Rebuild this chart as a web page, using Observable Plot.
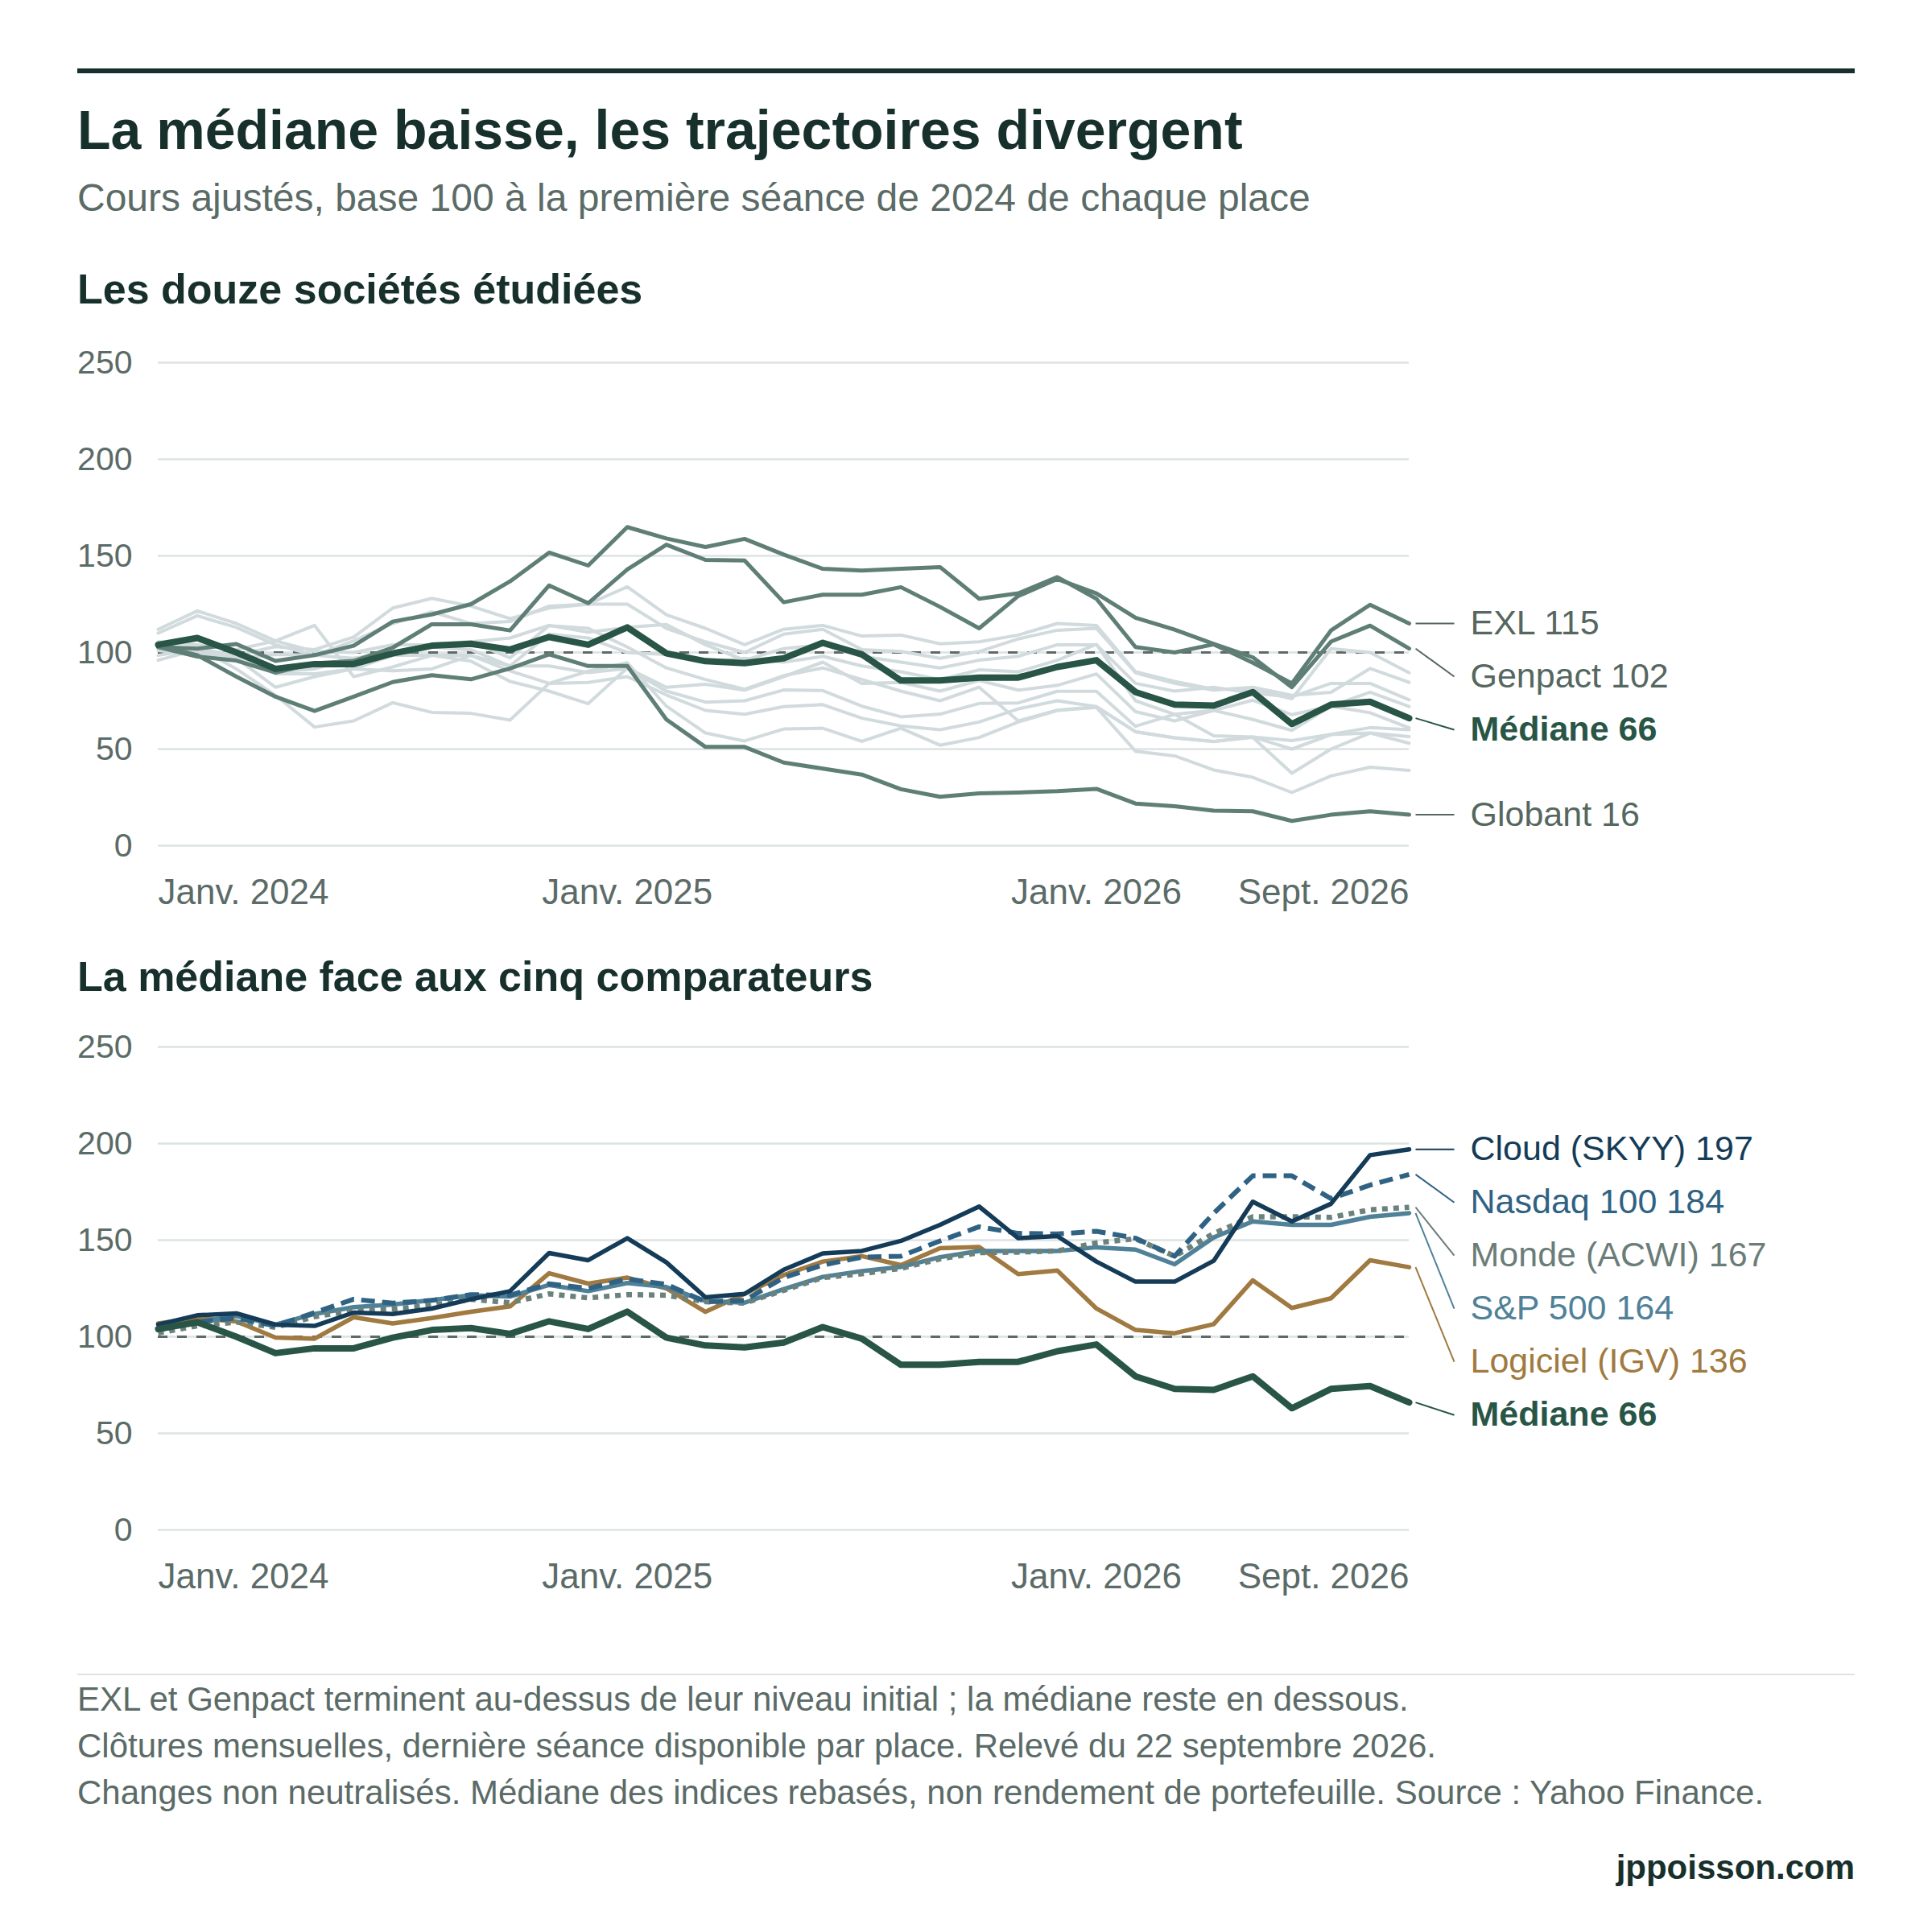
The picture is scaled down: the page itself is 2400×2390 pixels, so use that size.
<!DOCTYPE html>
<html lang="fr"><head><meta charset="utf-8">
<script src="https://cdn.jsdelivr.net/npm/d3@7"></script>
<script src="https://cdn.jsdelivr.net/npm/@observablehq/plot@0.6"></script>
<style>
html,body{margin:0;padding:0;background:#fff;}
#page{position:relative;width:2400px;height:2390px;overflow:hidden;background:#fff;font-family:"Liberation Sans",Arial,Helvetica,sans-serif;}
.t{position:absolute;white-space:nowrap;line-height:1;margin:0;}
.rule{position:absolute;left:96px;width:2208px;}
.chart{position:absolute;left:0;width:2400px;}
</style></head>
<body><div id="page">
<div class="rule" style="top:85px;height:6px;background:#17302b"></div>
<div class="t" style="left:96px;top:127px;font-size:68px;font-weight:bold;color:#17302b">La médiane baisse, les trajectoires divergent</div>
<div class="t" style="left:96px;top:222px;font-size:48px;color:#5b6b67">Cours ajustés, base 100 à la première séance de 2024 de chaque place</div>
<div class="t" style="left:96px;top:333px;font-size:52px;font-weight:bold;color:#17302b">Les douze sociétés étudiées</div>
<div class="chart" id="c1" style="top:400px"></div>
<div class="t" style="left:96px;top:1187px;font-size:52px;font-weight:bold;color:#17302b">La médiane face aux cinq comparateurs</div>
<div class="chart" id="c2" style="top:1250px"></div>
<div class="rule" style="top:2079px;height:2px;background:#dde2e2"></div>
<div class="t" style="left:96px;top:2090px;font-size:42px;color:#5b6b67">EXL et Genpact terminent au-dessus de leur niveau initial ; la médiane reste en dessous.</div>
<div class="t" style="left:96px;top:2148px;font-size:42px;color:#5b6b67">Clôtures mensuelles, dernière séance disponible par place. Relevé du 22 septembre 2026.</div>
<div class="t" style="left:96px;top:2206px;font-size:42px;color:#5b6b67">Changes non neutralisés. Médiane des indices rebasés, non rendement de portefeuille. Source : Yahoo Finance.</div>
<div class="t" style="right:96px;top:2299px;font-size:42px;font-weight:bold;color:#17302b">jppoisson.com</div>
</div>
<script>
// ---- Categories / ticks ----
const months = ["2024-01","2024-02","2024-03","2024-04","2024-05","2024-06","2024-07","2024-08","2024-09","2024-10","2024-11","2024-12",
"2025-01","2025-02","2025-03","2025-04","2025-05","2025-06","2025-07","2025-08","2025-09","2025-10","2025-11","2025-12",
"2026-01","2026-02","2026-03","2026-04","2026-05","2026-06","2026-07","2026-08","2026-09"];
const tickMonths = ["2024-01","2025-01","2026-01","2026-09"];
const tickLabels = ["Janv. 2024","Janv. 2025","Janv. 2026","Sept. 2026"];
const yTicks = [0,50,100,150,200,250];

// ---- Series (base 100) ----
const mediane = [104,107.5,100,91.5,94,94,99.5,103.5,104.5,101.5,108,104,113,99.5,95.5,94.5,97,105,99,85.5,85.5,87,87,92.5,96,79.5,73,72.5,79.5,63,73,74.5,66];
const exl = [102.8,102,104.4,95.6,98.6,103.5,116,119.7,125,136.8,151.7,145,164.9,159,154.6,158.8,150.7,143.3,142.4,143.3,144.2,127.8,130.6,139,127.8,102.8,100,104.2,94.7,84,111.4,124.7,115];
const genpact = [102.8,97.9,95.8,89.6,94.4,95.6,102.5,114.6,114.6,111.4,134.7,125.5,143,155.8,147.9,147.6,126,129.9,129.9,133.8,123.6,112.5,129.2,138,130.6,118,111.8,104.4,97.5,82,105.6,113.9,102];
const globant = [103.7,98.6,87.5,77.1,69.7,77.1,84.7,88.2,86.1,91.7,99,93,93,65.3,51.1,51.1,43,39.9,36.8,29.2,25.3,27.1,27.5,28.2,29.4,21.8,20.4,18.1,17.8,12.8,16,17.8,16];
const societeA = [104,101.5,98.5,103,101.5,108,123,128,124,117.5,123,125,134,119.5,112.5,104,112,114,108.5,109,104.5,105.5,109,115,114,90,85,81,81,76,102,100,89.5];
const societeB = [101,98.5,97,99,98.5,106,115,121,115,116,124,125,125,112.5,105.5,100,109.5,112,101.5,100.5,97,100.5,107,111.5,112.5,89.5,84,80.5,82,77.8,79.4,91.7,84.5];
const societeC = [112,121.5,115,106,100.5,100,104,104,105.5,107.5,114,110.5,113,114.5,104,96,102,104,98,95,92,96,98,104,104,84,80,82,79,77,84,84,75.5];
const societeD = [110,119,113,104,98.5,97,98.5,98.5,98.5,93,109.5,107.5,100,99,95,97,95,98,93,90,86,91,90,96,104.2,75,68,70,75.3,67.8,72.2,79.4,72];
const societeE = [105.5,104,101.5,106,114,87.5,92.5,98.5,95.5,85,80,73.5,92,82,83.5,80.5,87.5,95,84,84.5,80,85.5,80.5,83,88.9,69.4,64.6,70,65.3,59.7,72.2,68.8,61];
const societeF = [98.5,102,98.5,89,89,91.5,98.5,102.8,101.4,93,93,89.6,91.7,80,74.3,75,80.6,80.3,72.2,66.7,68.1,73.6,73.9,79.9,79.9,61.8,68,56.9,56.3,54.4,57.6,61.1,60];
const societeG = [96,101.5,97,82,87.5,91.5,90.5,91.5,98.5,90.5,84,84.5,87.5,78,70,68,72,73,66,62,60,64,70.8,75,72,59,55.8,53.9,56.3,50,57.5,58.3,56.5];
const societeH = [104,100,96,90,91.5,97,100,104.2,105.6,97.2,113.9,112.5,102.8,92,86,81,88,92,86,80,75,82,64.6,70.1,71.9,59,55.8,54,56,37.5,50,58.3,53];
const societeI = [101.5,102.8,91.5,77.8,61.4,64.6,74,69,68.5,65,84,90.3,94.7,72.2,58.3,54.2,60.4,60.8,54,60.8,52,56,64,70,71.6,48.9,46.5,39.2,35.4,27.5,36.1,40.6,39];

const cloud = [106.3,111.1,112.1,106.3,105.6,112.5,111.8,114.6,119.4,123.6,143.3,139.6,151,138.5,120.4,122.2,134.7,143.1,144.4,149.6,157.9,167.4,151,152.1,138.9,128.5,128.5,139.3,169.9,159.7,168.8,194,197];
const nasdaq = [103.5,107.6,109.7,105.6,112.5,119.4,117.4,118.8,121.8,121.5,127.4,125,129.9,127.1,118.1,118.8,130.6,137.1,141.2,141.7,149.6,156.9,153.5,153.2,154.6,151,141.7,163.9,183.3,183.3,171.5,178.5,184];
const monde = [102,105.6,107.6,104.9,110.4,113.5,114.3,116.3,119.4,117.6,122.2,120.1,121.8,121.5,118.1,117.4,124,130.6,132.6,135.4,140.3,143.5,143.8,144.4,148.6,150.7,141.7,153.5,162.1,162.1,161.8,165.7,167];
const sp500 = [103.5,107.6,110.7,106.3,111.8,115.3,116.7,119,121.5,120.8,126.8,123.6,127.8,125.7,118.5,117.6,124.6,131,134,136.1,141.2,144.4,144.4,144.4,146.3,145.1,137.5,151.4,159.7,157.9,157.9,162.1,164];
const logiciel = [106.9,109.7,107.9,99.6,99,110.1,106.9,109.7,112.9,115.7,132.9,127.5,130.6,125,112.9,122.2,131.9,138.9,141.7,137.1,145.8,146.5,132.4,134.3,114.6,103.5,101.8,106.5,129.2,114.9,119.9,139.6,136];

// ---- Styling ----
const FONT = '"Liberation Sans", Arial, Helvetica, sans-serif';
const GREY_TXT = "#5b6b67";
const C_MED = "#285546", C_HI = "#5f7f76", C_LIGHT = "#d1dadd";
const PX_PER_MONTH = (1750 - 196) / (months.length - 1);

function toLong(name, values) { return values.map((v, i) => ({name, i, v})); }
const lightSeries = [["A",societeA],["B",societeB],["C",societeC],["D",societeD],["E",societeE],["F",societeF],["G",societeG],["H",societeH],["I",societeI]];
const lightData = lightSeries.flatMap(([n, s]) => toLong(n, s));
const hiData = [["EXL",exl],["Genpact",genpact],["Globant",globant]].flatMap(([n, s]) => toLong(n, s));
const medData = toLong("Médiane", mediane);
const last = months.length - 1;
const ticks = tickMonths.map((m, k) => ({i: months.indexOf(m), label: tickLabels[k], k}));

function dodge(items, gap) {
  const s = items.slice().sort((a, b) => b.value - a.value);
  let prev = Infinity;
  for (const d of s) { d.ly = Math.min(d.value, prev - gap); prev = d.ly; }
  return items;
}
const GAP = 66 * 250 / 600;

function baseMarks() {
  return [
    Plot.gridY(yTicks, {stroke: "#dde2e2", strokeOpacity: 1, strokeWidth: 2.5}),
    Plot.axisY(yTicks, {tickSize: 0, tickPadding: 32, fontSize: 41, fill: GREY_TXT, label: null}),
    Plot.text(ticks.filter(d => d.k === 0), {x: "i", text: "label", frameAnchor: "bottom", textAnchor: "start", lineAnchor: "top", dy: 41, fontSize: 44, fill: GREY_TXT}),
    Plot.text(ticks.filter(d => d.k === 1 || d.k === 2), {x: "i", text: "label", frameAnchor: "bottom", textAnchor: "middle", lineAnchor: "top", dy: 41, fontSize: 44, fill: GREY_TXT}),
    Plot.text(ticks.filter(d => d.k === 3), {x: "i", text: "label", frameAnchor: "bottom", textAnchor: "end", lineAnchor: "top", dy: 41, fontSize: 44, fill: GREY_TXT}),
    Plot.ruleY([100], {stroke: "#5e6a68", strokeWidth: 3, strokeDasharray: "12,12"})
  ];
}
function labelMarks(labels) {
  return [
    Plot.link(labels, {x1: () => last + 8 / PX_PER_MONTH, x2: () => last + 56 / PX_PER_MONTH, y1: "value", y2: "ly", stroke: "color", strokeWidth: 2}),
    Plot.text(labels.filter(d => !d.bold), {x: () => last, y: "ly", text: d => d.name + " " + Math.round(d.value), fill: "color", dx: 76, textAnchor: "start", fontSize: 43}),
    Plot.text(labels.filter(d => d.bold), {x: () => last, y: "ly", text: d => d.name + " " + Math.round(d.value), fill: "color", dx: 76, textAnchor: "start", fontSize: 43, fontWeight: "bold"})
  ];
}
function frame(marks) {
  return Plot.plot({
    width: 2400, height: 740,
    marginLeft: 196, marginRight: 650, marginTop: 50, marginBottom: 90,
    x: {type: "linear", domain: [0, last], axis: null},
    y: {domain: [0, 250], label: null},
    style: {fontFamily: FONT, fontSize: "43px", background: "transparent", overflow: "visible", color: GREY_TXT},
    marks
  });
}

// ---- Chart 1 ----
const labels1 = dodge([
  {name: "EXL", value: exl[last], color: "#56675f"},
  {name: "Genpact", value: genpact[last], color: "#56675f"},
  {name: "Médiane", value: mediane[last], color: C_MED, bold: true},
  {name: "Globant", value: globant[last], color: "#56675f"}
], GAP);
document.getElementById("c1").append(frame([
  ...baseMarks(),
  Plot.line(lightData, {x: "i", y: "v", z: "name", stroke: C_LIGHT, strokeWidth: 4}),
  Plot.line(hiData, {x: "i", y: "v", z: "name", stroke: C_HI, strokeWidth: 5}),
  Plot.line(medData, {x: "i", y: "v", stroke: C_MED, strokeWidth: 8}),
  ...labelMarks(labels1)
]));

// ---- Chart 2 ----
const comps = [
  {name: "Logiciel (IGV)", s: logiciel, color: "#a07a40", w: 5.5},
  {name: "S&P 500", s: sp500, color: "#4f8198", w: 5.5},
  {name: "Monde (ACWI)", s: monde, color: "#6b827c", w: 6.5, dash: "7,7"},
  {name: "Nasdaq 100", s: nasdaq, color: "#2f6283", w: 6, dash: "17,9"},
  {name: "Cloud (SKYY)", s: cloud, color: "#143b57", w: 5.5}
];
const labels2 = dodge([
  ...comps.map(c => ({name: c.name, value: c.s[last], color: c.name === "Monde (ACWI)" ? "#6b7d78" : c.color})),
  {name: "Médiane", value: mediane[last], color: C_MED, bold: true}
], GAP);
document.getElementById("c2").append(frame([
  ...baseMarks(),
  ...comps.map(c => Plot.line(toLong(c.name, c.s), {x: "i", y: "v", stroke: c.color, strokeWidth: c.w, strokeDasharray: c.dash, strokeLinecap: c.dash ? "butt" : "round"})),
  Plot.line(medData, {x: "i", y: "v", stroke: C_MED, strokeWidth: 8}),
  ...labelMarks(labels2)
]));
</script>
</body></html>
